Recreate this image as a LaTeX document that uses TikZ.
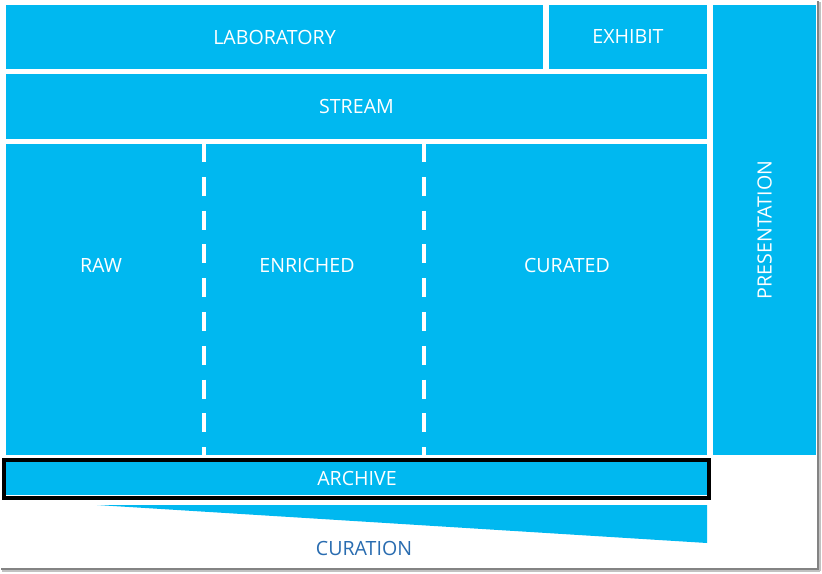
\documentclass[tikz,border=0pt]{standalone}
\usepackage{fontspec}
\setmainfont{Open Sans}
\definecolor{tile}{RGB}{0,184,240}
\definecolor{curtext}{RGB}{41,108,176}
\definecolor{shadowgray}{RGB}{100,100,100}
\begin{document}
\begin{tikzpicture}[x=1pt,y=-1pt,
  tilebox/.style={fill=tile,inner sep=0pt,outer sep=0pt,anchor=north west},
  tilelabel/.style={text=white,font=\fontsize{19.6}{22}\selectfont,inner sep=0pt},
  divider/.style={draw=white,line width=4pt,dash pattern=on 19pt off 14.8pt},
  frame/.style={draw=black,line width=4.5pt}]
\useasboundingbox (0,0) rectangle (822,573);
\fill[white] (0,0) rectangle (822,573);
% screenshot shadow
\draw[shadowgray!80,line width=1.5pt] (818,1) -- (818,570);
\draw[shadowgray!40,line width=1.5pt] (820,2) -- (820,571);
\draw[shadowgray!80,line width=1.5pt] (1,569) -- (818,569);
\draw[shadowgray!40,line width=1.5pt] (2,571) -- (820,571);
% tiles
\node[tilebox,minimum width=537,minimum height=64] (lab) at (6,5) {};
\node[tilelabel] at (lab.center) {LABORATORY};
\node[tilebox,minimum width=158,minimum height=64] (exh) at (549,5) {};
\node[tilelabel] at (exh.center) {EXHIBIT};
\node[tilebox,minimum width=701,minimum height=65] (stream) at (6,74) {};
\node[tilelabel] at (stream.center) {STREAM};
\node[tilebox,minimum width=103,minimum height=450] (pres) at (713,5) {};
\node[tilelabel,rotate=90] at (pres.center) {PRESENTATION};
\node[tilebox,minimum width=198,minimum height=311] (raw) at (6,144) {};
\node[tilebox,minimum width=220,minimum height=311] (enr) at (204,144) {};
\node[tilebox,minimum width=283,minimum height=311] (cur) at (424,144) {};
\node[tilelabel] at (101,265) {RAW};
\node[tilelabel] at (307,265) {ENRICHED};
\node[tilelabel] at (567,265) {CURATED};
% dashed dividers
\coordinate (d1t) at (204,143); \coordinate (d1b) at (204,455);
\coordinate (d2t) at (424,143); \coordinate (d2b) at (424,455);
\draw[divider] (d1t) -- (d1b);
\draw[divider] (d2t) -- (d2b);
% archive
\node[tilebox,minimum width=701,minimum height=33] (arch) at (6,462) {};
\node[tilelabel] at (357,478) {ARCHIVE};
\draw[frame] (4,460) rectangle (709,498);
% curation wedge
\fill[tile] (97,505) -- (707,505) -- (707,543) -- cycle;
\node[text=curtext,font=\fontsize{19.6}{22}\selectfont,inner sep=0pt] (curation) at (364,548) {CURATION};
\end{tikzpicture}
\end{document}
